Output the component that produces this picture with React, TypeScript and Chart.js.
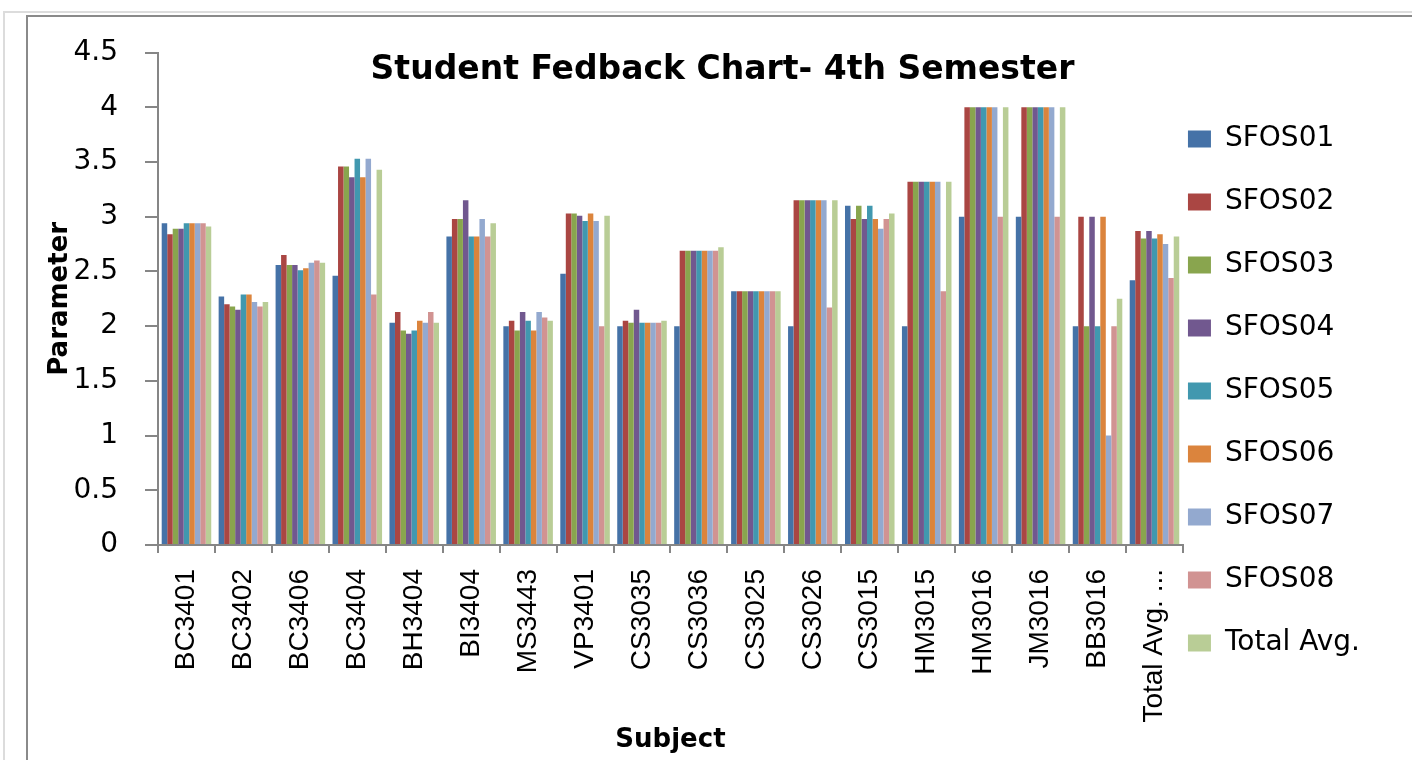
import React, { useEffect, useRef } from 'react';
import { Chart, registerables } from 'chart.js';

Chart.register(...registerables);

const categories = [
  'BC3401', 'BC3402', 'BC3406', 'BC3404', 'BH3404', 'BI3404', 'MS3443', 'VP3401', 'CS3035',
  'CS3036', 'CS3025', 'CS3026', 'CS3015', 'HM3015', 'HM3016', 'JM3016', 'BB3016', 'Total Avg. ...',
];

const seriesNames = ['SFOS01', 'SFOS02', 'SFOS03', 'SFOS04', 'SFOS05', 'SFOS06', 'SFOS07', 'SFOS08', 'Total Avg.'];

const seriesColors = ['#4572A7', '#AA4643', '#89A54E', '#71588F', '#4198AF', '#DB843D', '#93A9CF', '#D19392', '#B9CD96'];

const sfos01 = [2.94, 2.27, 2.56, 2.46, 2.03, 2.82, 2.0, 2.48, 2.0, 2.0, 2.32, 2.0, 3.1, 2.0, 3.0, 3.0, 2.0, 2.42];
const sfos02 = [2.84, 2.2, 2.65, 3.46, 2.13, 2.98, 2.05, 3.03, 2.05, 2.69, 2.32, 3.15, 2.98, 3.32, 4.0, 4.0, 3.0, 2.87];
const sfos03 = [2.89, 2.18, 2.56, 3.46, 1.96, 2.98, 1.96, 3.03, 2.03, 2.69, 2.32, 3.15, 3.1, 3.32, 4.0, 4.0, 2.0, 2.8];
const sfos04 = [2.89, 2.15, 2.56, 3.36, 1.93, 3.15, 2.13, 3.01, 2.15, 2.69, 2.32, 3.15, 2.98, 3.32, 4.0, 4.0, 3.0, 2.87];
const sfos05 = [2.94, 2.29, 2.51, 3.53, 1.96, 2.82, 2.05, 2.96, 2.03, 2.69, 2.32, 3.15, 3.1, 3.32, 4.0, 4.0, 2.0, 2.8];
const sfos06 = [2.94, 2.29, 2.53, 3.36, 2.05, 2.82, 1.96, 3.03, 2.03, 2.69, 2.32, 3.15, 2.98, 3.32, 4.0, 4.0, 3.0, 2.84];
const sfos07 = [2.94, 2.22, 2.58, 3.53, 2.03, 2.98, 2.13, 2.96, 2.03, 2.69, 2.32, 3.15, 2.89, 3.32, 4.0, 4.0, 1.0, 2.75];
const sfos08 = [2.94, 2.18, 2.6, 2.29, 2.13, 2.82, 2.08, 2.0, 2.03, 2.69, 2.32, 2.17, 2.98, 2.32, 3.0, 3.0, 2.0, 2.44];
const totalAvg = [2.91, 2.22, 2.58, 3.43, 2.03, 2.94, 2.05, 3.01, 2.05, 2.72, 2.32, 3.15, 3.03, 3.32, 4.0, 4.0, 2.25, 2.82];

const seriesValues = [sfos01, sfos02, sfos03, sfos04, sfos05, sfos06, sfos07, sfos08, totalAvg];

const LEGEND_FONT = 28;
const LEGEND_PAD = 35;
const LEGEND_FIRST_ROW_Y = 139;

const framePlugin = {
  id: 'frame',
  beforeDraw(chart: any) {
    const ctx = chart.ctx;
    ctx.save();
    ctx.fillStyle = '#ffffff';
    ctx.fillRect(0, 0, chart.width, chart.height);
    ctx.strokeStyle = '#dcdcdc';
    ctx.lineWidth = 2;
    ctx.beginPath();
    ctx.moveTo(4, chart.height);
    ctx.lineTo(4, 12);
    ctx.lineTo(chart.width, 12);
    ctx.stroke();
    ctx.strokeStyle = '#8a8a8a';
    ctx.lineWidth = 2;
    ctx.beginPath();
    ctx.moveTo(27, chart.height);
    ctx.lineTo(27, 16);
    ctx.lineTo(chart.width, 16);
    ctx.stroke();
    ctx.restore();
  },
};

const legendShiftPlugin = {
  id: 'legendShift',
  afterLayout(chart: any) {
    const l = chart.legend;
    if (!l) return;
    const dx = chart.chartArea.right + 5 - (l.left + LEGEND_PAD);
    l.left += dx;
    l.right += dx;
    const dy = LEGEND_FIRST_ROW_Y - (l.top + LEGEND_PAD + LEGEND_FONT / 2);
    l.top += dy;
    l.bottom += dy;
  },
};

export default function App() {
  const canvasRef = useRef<HTMLCanvasElement | null>(null);

  useEffect(() => {
    document.body.style.margin = '0';
    const canvas = canvasRef.current;
    if (!canvas) return;
    const axisColor = '#868686';
    const chart = new Chart(canvas, {
      type: 'bar',
      data: {
        labels: categories,
        datasets: seriesNames.map((name, i) => ({
          label: name,
          data: seriesValues[i],
          backgroundColor: seriesColors[i],
          borderWidth: 0,
          categoryPercentage: 0.87,
          barPercentage: 1.0,
        })),
      },
      options: {
        responsive: false,
        animation: false,
        layout: { padding: { left: 45, right: 12, top: 0, bottom: 4 } },
        plugins: {
          title: {
            display: true,
            text: 'Student Fedback Chart- 4th Semester',
            color: '#000',
            font: { family: 'DejaVu Sans', size: 33, weight: 'bold' },
            padding: { top: 51, bottom: -38 },
          },
          legend: {
            display: true,
            position: 'right',
            align: 'start',
            labels: {
              color: '#000',
              font: { family: 'DejaVu Sans', size: LEGEND_FONT },
              boxWidth: 23,
              boxHeight: 17,
              padding: LEGEND_PAD,
            },
          },
          tooltip: { enabled: false },
        },
        scales: {
          x: {
            afterFit: (scale: any) => {
              scale.height = 211;
            },
            border: { display: true, color: axisColor, width: 2 },
            grid: {
              display: true,
              drawOnChartArea: false,
              drawTicks: true,
              tickLength: 8,
              color: axisColor,
              lineWidth: 2,
              offset: true,
            },
            ticks: {
              color: '#000',
              font: { family: 'Liberation Sans', size: 28 },
              minRotation: 90,
              maxRotation: 90,
              padding: 16,
              autoSkip: false,
            },
            title: {
              display: true,
              text: 'Subject',
              color: '#000',
              font: { family: 'DejaVu Sans', size: 26, weight: 'bold' },
              padding: { top: 2, bottom: 0 },
            },
          },
          y: {
            min: 0,
            max: 4.5,
            afterFit: (scale: any) => {
              scale.width = 113;
            },
            border: { display: true, color: axisColor, width: 2 },
            grid: {
              display: true,
              drawOnChartArea: false,
              drawTicks: true,
              tickLength: 13,
              color: axisColor,
              lineWidth: 2,
            },
            ticks: {
              stepSize: 0.5,
              color: '#000',
              font: { family: 'DejaVu Sans', size: 28 },
              padding: 27,
              callback: (v: any) => String(Number(v)),
            },
            title: {
              display: true,
              text: 'Parameter',
              color: '#000',
              font: { family: 'DejaVu Sans', size: 26, weight: 'bold' },
              padding: { top: 0, bottom: 0 },
            },
          },
        },
      },
      plugins: [framePlugin, legendShiftPlugin],
    });
    return () => {
      chart.destroy();
    };
  }, []);

  return (
    <div style={{ position: 'absolute', left: 0, top: 0, width: 1412, height: 760 }}>
      <canvas ref={canvasRef} width={1412} height={760} style={{ display: 'block' }} />
    </div>
  );
}
